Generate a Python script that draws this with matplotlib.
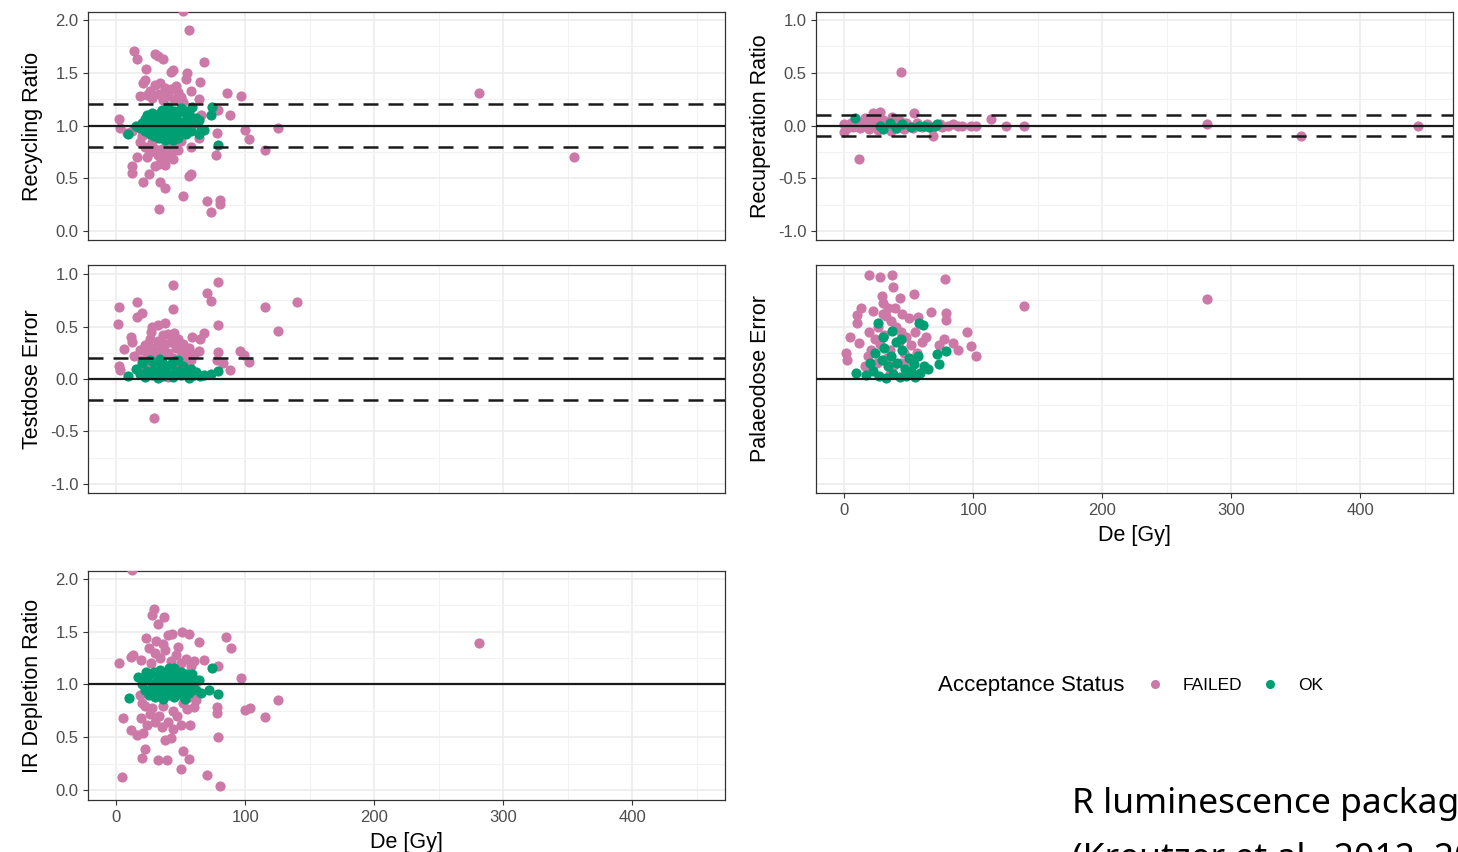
import matplotlib.pyplot as plt
from matplotlib.lines import Line2D
import numpy as np

plt.rcParams['font.family'] = ['Liberation Sans', 'DejaVu Sans']
plt.rcParams['axes.unicode_minus'] = False

pink = '#CC79A7'
green = '#009E73'

# Recycling ratio (De [Gy], value)
rec_failed = [(52,2.09),(56,1.91),(14,1.71),(16,1.63),(30,1.68),(32,1.66),(36,1.63),(68,1.60),(23,1.54),
              (42,1.51),(44,1.53),(55,1.50),(22,1.43),(21,1.40),(54,1.44),(65,1.41),(30,1.38),(34,1.40),
              (38,1.36),(42,1.35),(46,1.37),(26,1.33),(48,1.32),(58,1.33),(86,1.31),(97,1.28),(18,1.28),
              (24,1.29),(64,1.25),(50,1.27),(33,1.30),(40,1.28),(28,1.26),(36,1.24),(45,1.25),(52,1.22),
              (88,1.10),(79,1.15),(2,1.06),(3,0.98),(100,0.96),(125,0.98),(103,0.87),(115,0.77),(78,0.93),
              (77,0.72),(12,0.62),(12,0.55),(16,0.70),(21,0.46),(25,0.54),(30,0.62),(33,0.64),(38,0.63),
              (34,0.46),(38,0.41),(52,0.33),(33,0.21),(56,0.52),(58,0.54),(70,0.28),(73,0.18),(80,0.29),
              (80,0.26),(64,0.88),(48,0.77),(58,0.80),(18,0.84),(22,0.80),(26,0.75),(28,0.84),(32,0.72),
              (35,0.78),(38,0.70),(40,0.82),(42,0.74),(44,0.68),(30,0.78),(24,0.70),(36,0.66),(46,0.80),
              (50,0.85),(20,0.90),(55,0.95),(48,1.00),(35,1.05),(42,0.95),(12,0.95),(8,0.93),(66,1.10),
              (281,1.31),(355,0.70)]
rec_ok = [(9,0.92),(73,1.10),(74,1.18),(79,0.82),(62,1.07),(64,1.05),(64,0.92),(24,1.10),(59,1.18),(50,1.17),
          (40,1.18),(15,1.0),(18,0.98),(20,1.02),(22,0.95),(25,1.05),(26,0.92),(28,1.0),(30,1.08),(31,0.96),
          (32,1.02),(33,0.88),(34,1.12),(35,0.98),(36,1.05),(37,0.93),(38,1.0),(39,1.1),(40,0.9),(41,1.03),
          (42,0.97),(43,1.08),(44,0.86),(45,1.0),(46,1.05),(47,0.94),(48,1.12),(50,0.98),(52,1.03),(54,0.92),
          (55,1.08),(57,1.0),(58,0.95),(60,1.02),(35,1.15),(28,1.12),(22,1.06),(48,0.88),(53,1.14),(29,0.9),
          (45,1.14),(38,0.86),(56,1.12),(26,1.0),(66,0.97),(68,0.96)]

# Recuperation ratio
recup_failed = [(44,0.51),(11,-0.32),(69,-0.10),(114,0.06),(125,0.0),(139,0.0),(22,0.12),(28,0.13),(54,0.12),
                (281,0.01),(354,-0.10),(445,0.0),(0,-0.06),(0,0.01),(2,-0.02),(5,0.02),(7,-0.01),(10,0.03),
                (12,-0.02),(15,0.0),(17,0.04),(19,-0.03),(20,0.06),(24,0.02),(26,-0.04),(30,0.05),(32,-0.01),
                (34,0.03),(36,-0.05),(38,0.02),(41,-0.02),(43,0.04),(46,-0.03),(48,0.02),(50,0.0),(53,-0.02),
                (56,0.02),(60,-0.01),(64,0.01),(68,-0.02),(74,0.01),(76,-0.01),(80,0.0),(84,0.01),(88,0.0),
                (91,0.0),(98,0.0),(102,0.0),(37,0.08),(26,0.09),(16,0.07)]
recup_ok = [(8,0.07),(28,0.0),(35,0.02),(40,-0.02),(45,0.01),(52,-0.01),(58,0.0),(62,0.0),(66,-0.01),
            (70,0.0),(72,0.01),(30,-0.03)]

# Testdose error
td_failed = [(2,0.69),(1,0.52),(16,0.73),(16,0.59),(20,0.63),(44,0.90),(44,0.67),(70,0.82),(73,0.74),(79,0.92),
             (79,0.51),(115,0.69),(140,0.73),(125,0.46),(29,-0.37),(96,0.27),(99,0.23),(103,0.16),(88,0.09),
             (2,0.12),(3,0.09),(6,0.29),(11,0.40),(28,0.50),(32,0.51),(38,0.53),(40,0.43),(59,0.40),(65,0.38),
             (68,0.44),(79,0.26),(64,0.27),(78,0.18),(83,0.15),(12,0.35),(14,0.22),(18,0.28),(20,0.18),
             (22,0.32),(24,0.25),(26,0.38),(28,0.30),(30,0.22),(32,0.36),(34,0.28),(35,0.15),(36,0.42),
             (38,0.33),(40,0.25),(42,0.35),(44,0.20),(46,0.30),(48,0.38),(50,0.27),(52,0.33),(54,0.22),
             (56,0.30),(58,0.18),(60,0.24),(25,0.12),(31,0.10),(37,0.08),(43,0.12),(48,0.11),(55,0.14),
             (18,0.10),(40,0.02),(27,0.45),(45,0.44)]
td_ok = [(9,0.03),(15,0.10),(18,0.05),(20,0.15),(22,0.02),(24,0.08),(26,0.18),(28,0.04),(30,0.12),(32,0.01),
         (33,0.07),(35,0.16),(36,0.03),(38,0.10),(40,0.05),(42,0.14),(44,0.02),(46,0.08),(48,0.18),(50,0.04),
         (52,0.12),(54,0.06),(56,0.01),(58,0.10),(60,0.04),(62,0.07),(65,0.03),(68,0.04),(73,0.05),(79,0.08),
         (34,0.19),(45,0.17)]

# Palaeodose error
pd_failed = [(19,0.99),(28,0.97),(37,0.99),(38,0.88),(78,0.95),(139,0.70),(281,0.76),(29,0.79),(43,0.77),
             (54,0.81),(13,0.68),(10,0.61),(10,0.53),(22,0.65),(67,0.64),(79,0.63),(79,0.56),(95,0.45),
             (98,0.31),(102,0.22),(88,0.28),(84,0.34),(77,0.38),(73,0.32),(4,0.40),(1,0.25),(2,0.18),
             (11,0.34),(19,0.45),(63,0.40),(57,0.59),(50,0.58),(34,0.68),(39,0.68),(30,0.72),(32,0.60),
             (36,0.55),(26,0.50),(40,0.50),(44,0.45),(48,0.40),(24,0.38),(28,0.33),(31,0.42),(35,0.28),
             (42,0.35),(46,0.25),(52,0.32),(55,0.45),(18,0.22),(21,0.28),(25,0.15),(33,0.20),(38,0.12),
             (44,0.15),(50,0.18),(56,0.25),(60,0.35),(16,0.12),(35,0.05),(30,0.62),(45,0.62)]
pd_ok = [(9,0.06),(17,0.04),(73,0.14),(72,0.24),(79,0.27),(65,0.10),(58,0.53),(61,0.51),(26,0.53),(37,0.46),
         (20,0.15),(22,0.08),(24,0.25),(27,0.03),(29,0.18),(31,0.30),(32,0.01),(34,0.12),(36,0.22),(38,0.05),
         (40,0.35),(41,0.15),(43,0.02),(45,0.28),(47,0.10),(48,0.03),(50,0.20),(52,0.08),(54,0.14),(55,0.02),
         (57,0.22),(59,0.06),(62,0.12),(30,0.40),(44,0.38)]

# IR depletion ratio
ir_failed = [(12,2.09),(29,1.72),(28,1.66),(37,1.64),(32,1.57),(51,1.50),(56,1.48),(40,1.47),(43,1.48),(23,1.44),
             (85,1.45),(89,1.35),(64,1.40),(31,1.41),(2,1.20),(11,1.26),(13,1.28),(19,1.23),(68,1.23),(79,1.18),
             (97,1.06),(100,0.76),(104,0.78),(115,0.69),(125,0.85),(78,0.79),(78,0.73),(79,0.50),(70,0.14),
             (80,0.04),(4,0.12),(5,0.68),(11,0.57),(16,0.52),(22,0.39),(20,0.30),(32,0.28),(39,0.28),(50,0.20),
             (52,0.37),(56,0.29),(38,0.47),(42,0.49),(50,0.62),(57,0.62),(60,0.79),(57,0.88),(19,0.68),
             (21,0.54),(30,0.64),(40,0.64),(281,1.39),(25,1.35),(30,1.30),(34,1.25),(38,1.33),(42,1.22),
             (46,1.28),(50,1.20),(54,1.24),(58,1.18),(27,1.20),(36,1.38),(48,1.36),(22,0.80),(26,0.72),
             (28,0.78),(33,0.70),(36,0.80),(44,0.75),(47,0.70),(52,0.82),(55,0.77),(62,0.85),(24,0.62),
             (35,0.60),(44,0.58),(18,0.90),(20,0.82),(60,1.22)]
ir_ok = [(10,0.87),(17,1.07),(74,1.16),(79,0.91),(72,0.95),(66,0.92),(20,1.0),(22,0.95),(24,1.05),(25,0.90),
         (26,1.10),(28,0.98),(29,1.12),(30,0.88),(31,1.02),(32,0.94),(33,1.08),(34,1.14),(35,0.97),(36,0.86),
         (37,1.04),(38,0.92),(39,1.10),(40,1.0),(41,0.90),(42,1.06),(43,0.96),(44,1.13),(45,0.88),(46,1.02),
         (47,0.94),(48,1.08),(49,0.98),(50,1.12),(51,0.90),(52,1.04),(53,0.95),(54,1.10),(55,1.0),(56,0.92),
         (57,1.06),(58,0.97),(60,1.02),(62,0.95),(64,1.04),(27,0.93),(35,1.07),(45,1.16),(53,0.86),(23,1.12),
         (41,1.16),(59,1.1)]

fig = plt.figure(figsize=(14.58, 8.52), dpi=100)
W, H = 1458, 852

def make_ax(x0, y0, x1, y1):
    return fig.add_axes([x0 / W, 1 - y1 / H, (x1 - x0) / W, (y1 - y0) / H])

panels = [
    # box, failed, ok, ylabel, ylim, yticks, ref, dashed, show x labels, show y labels
    ((88, 12, 725, 240), rec_failed, rec_ok, 'Recycling Ratio', (-0.085, 2.076), [0, 0.5, 1, 1.5, 2], 1.0, [0.8, 1.2], False, True),
    ((816, 12, 1453, 240), recup_failed, recup_ok, 'Recuperation Ratio', (-1.085, 1.076), [-1, -0.5, 0, 0.5, 1], 0.0, [-0.1, 0.1], False, True),
    ((88, 265, 725, 493), td_failed, td_ok, 'Testdose Error', (-1.086, 1.086), [-1, -0.5, 0, 0.5, 1], 0.0, [-0.2, 0.2], False, True),
    ((816, 265, 1453, 493), pd_failed, pd_ok, 'Palaeodose Error', (-1.086, 1.086), [-1, -0.5, 0, 0.5, 1], 0.0, [], True, False),
    ((88, 571, 725, 800), ir_failed, ir_ok, 'IR Depletion Ratio', (-0.095, 2.076), [0, 0.5, 1, 1.5, 2], 1.0, [], True, True),
]

for box, failed, ok, ylab, ylim, yticks, ref, dashed, showx, showy in panels:
    ax = make_ax(*box)
    ax.set_xlim(-22, 472)
    ax.set_ylim(*ylim)
    ax.set_xticks([0, 100, 200, 300, 400])
    ax.set_xticks([50, 150, 250, 350, 450], minor=True)
    ax.set_yticks(yticks)
    ax.set_yticks(np.array(yticks[:-1]) + 0.25, minor=True)
    ax.grid(which='major', color='#EBEBEB', linewidth=1.1, zorder=0)
    ax.grid(which='minor', color='#F2F2F2', linewidth=0.8, zorder=0)
    ax.set_axisbelow(True)
    for s in ax.spines.values():
        s.set_color('#333333')
        s.set_linewidth(0.9)
    ax.tick_params(which='minor', length=0)
    ax.tick_params(axis='both', colors='#333333', labelcolor='#4D4D4D', labelsize=12, length=3.5, width=0.8)
    if not showx:
        ax.tick_params(axis='x', length=0, labelbottom=False)
    else:
        ax.set_xlabel('De [Gy]', fontsize=15.5, labelpad=5)
    if not showy:
        ax.tick_params(axis='y', length=0, labelleft=False)
    ax.set_ylabel(ylab, fontsize=15.5)
    # right edge of the rotated label sits about 45 px left of the panel
    ax.yaxis.set_label_coords(-45 / 637, 0.5)

    fx, fy = zip(*failed)
    ox, oy = zip(*ok)
    ax.scatter(fx, fy, s=54, color=pink, linewidths=0, zorder=3)
    ax.scatter(ox, oy, s=54, color=green, linewidths=0, zorder=3)
    ax.axhline(ref, color='#1A1A1A', linewidth=1.6, zorder=4)
    for d in dashed:
        ax.axhline(d, color='#1A1A1A', linewidth=1.8, linestyle=(0, (6, 4)), zorder=4)

# legend
fig.text(938 / W, 1 - 685 / H, 'Acceptance Status', fontsize=16, va='center', ha='left')
handles = [Line2D([], [], marker='o', linestyle='', color=pink, markersize=5.5),
           Line2D([], [], marker='o', linestyle='', color=green, markersize=5.5)]
fig.legend(handles, ['FAILED', 'OK'], loc='center left', bbox_to_anchor=(1129 / W, 1 - 685 / H),
           ncol=2, frameon=False, fontsize=12.5, handlelength=1.2, handletextpad=1.0, columnspacing=1.0)

fig.text(1072 / W, 1 - 813 / H, 'R luminescence package', fontsize=25.5, family=['Noto Sans', 'DejaVu Sans'],
         va='baseline', ha='left')
fig.text(1072 / W, 1 - 867 / H, '(Kreutzer et al., 2012, 2022)', fontsize=25.5, family=['Noto Sans', 'DejaVu Sans'],
         va='baseline', ha='left')

fig.savefig('out.png', dpi=100)
